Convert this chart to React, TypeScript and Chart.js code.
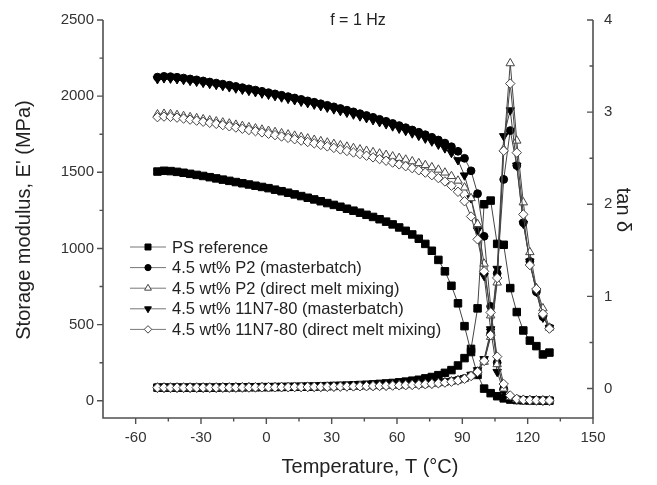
import React, { useEffect, useRef } from 'react';
import { Chart, registerables } from 'chart.js';

Chart.register(...registerables);

// Temperature grid (°C)
const temperatures = [
  -50, -47, -44, -41, -38, -35, -32, -29, -26, -23,
  -20, -17, -14, -11, -8, -5, -2, 1, 4, 7,
  10, 13, 16, 19, 22, 25, 28, 31, 34, 37,
  40, 43, 46, 49, 52, 55, 58, 61, 64, 67,
  70, 73, 76, 79, 82, 85, 88, 91, 94, 97,
  100, 103, 106, 109, 112, 115, 118, 121, 124, 127,
  130,
];

// Storage modulus E' (MPa)
const psModulus = [
  1505, 1510, 1508, 1503, 1497, 1490, 1483, 1476, 1468, 1460,
  1452, 1444, 1436, 1428, 1420, 1412, 1404, 1396, 1386, 1376,
  1366, 1355, 1344, 1333, 1322, 1310, 1298, 1286, 1274, 1261,
  1248, 1235, 1221, 1207, 1192, 1176, 1158, 1138, 1116, 1092,
  1064, 1030, 985, 925, 850, 755, 640, 490, 320, 170,
  80, 50, 30, 16, 8, 5, 3, 2, 2, 1,
  1,
];
const p2MasterModulus = [
  2125, 2130, 2128, 2124, 2119, 2113, 2107, 2100, 2093, 2086,
  2079, 2072, 2064, 2056, 2048, 2040, 2032, 2023, 2015, 2006,
  1997, 1988, 1979, 1969, 1960, 1950, 1940, 1930, 1919, 1908,
  1897, 1885, 1873, 1861, 1848, 1835, 1821, 1807, 1793, 1778,
  1763, 1747, 1730, 1712, 1692, 1668, 1638, 1592, 1510, 1360,
  1080, 620, 250, 80, 25, 10, 6, 4, 3, 2,
  2,
];
const p2DirectModulus = [
  1880, 1884, 1882, 1876, 1869, 1862, 1855, 1848, 1841, 1834,
  1827, 1820, 1812, 1804, 1796, 1788, 1780, 1772, 1764, 1756,
  1748, 1740, 1731, 1722, 1713, 1704, 1695, 1686, 1677, 1668,
  1659, 1650, 1641, 1632, 1623, 1614, 1604, 1594, 1583, 1572,
  1560, 1547, 1533, 1517, 1498, 1475, 1445, 1400, 1330, 1160,
  900, 560, 240, 80, 25, 10, 6, 4, 3, 2,
  2,
];
const n7MasterModulus = [
  2112, 2118, 2116, 2112, 2107, 2101, 2095, 2088, 2081, 2074,
  2067, 2059, 2051, 2043, 2035, 2027, 2018, 2010, 2001, 1992,
  1983, 1974, 1964, 1955, 1945, 1935, 1925, 1914, 1903, 1892,
  1880, 1868, 1856, 1843, 1830, 1816, 1802, 1787, 1772, 1756,
  1740, 1722, 1703, 1682, 1658, 1628, 1580, 1480, 1330, 1120,
  820, 470, 190, 60, 20, 9, 5, 4, 3, 2,
  2,
];
const n7DirectModulus = [
  1862, 1866, 1864, 1859, 1853, 1846, 1839, 1832, 1825, 1818,
  1810, 1802, 1794, 1786, 1778, 1770, 1762, 1753, 1744, 1735,
  1726, 1717, 1708, 1699, 1690, 1680, 1670, 1660, 1650, 1640,
  1630, 1620, 1609, 1598, 1587, 1576, 1564, 1552, 1540, 1527,
  1513, 1498, 1481, 1462, 1440, 1412, 1372, 1310, 1210, 1060,
  850, 580, 290, 110, 35, 12, 6, 4, 3, 2,
  2,
];

// tan delta
const psTan = [
  0.01, 0.01, 0.01, 0.01, 0.01, 0.01, 0.01, 0.01, 0.01, 0.01,
  0.012, 0.012, 0.013, 0.013, 0.014, 0.014, 0.015, 0.015, 0.016, 0.017,
  0.018, 0.019, 0.02, 0.021, 0.022, 0.024, 0.026, 0.028, 0.03, 0.032,
  0.035, 0.038, 0.041, 0.045, 0.05, 0.055, 0.06, 0.067, 0.075, 0.085,
  0.095, 0.11, 0.125, 0.145, 0.17, 0.2, 0.25, 0.33, 0.43, 0.87,
  2.0, 2.04, 1.57, 1.56, 1.09, 0.83, 0.63, 0.52, 0.46, 0.37,
  0.39,
];
const p2MasterTan = [
  0.012, 0.012, 0.012, 0.012, 0.012, 0.012, 0.012, 0.012, 0.012, 0.012,
  0.013, 0.013, 0.014, 0.014, 0.015, 0.015, 0.016, 0.016, 0.017, 0.017,
  0.018, 0.019, 0.019, 0.02, 0.021, 0.022, 0.023, 0.024, 0.025, 0.026,
  0.027, 0.028, 0.03, 0.031, 0.033, 0.035, 0.037, 0.039, 0.042, 0.045,
  0.048, 0.052, 0.057, 0.063, 0.07, 0.08, 0.093, 0.11, 0.14, 0.19,
  0.3, 0.6, 1.25, 2.27, 2.8, 2.42, 1.8, 1.38, 1.05, 0.78,
  0.66,
];
const p2DirectTan = [
  0.01, 0.01, 0.01, 0.01, 0.01, 0.01, 0.01, 0.01, 0.01, 0.01,
  0.011, 0.011, 0.012, 0.012, 0.013, 0.013, 0.014, 0.014, 0.015, 0.015,
  0.016, 0.016, 0.017, 0.018, 0.018, 0.019, 0.02, 0.021, 0.022, 0.023,
  0.024, 0.025, 0.026, 0.028, 0.029, 0.031, 0.033, 0.035, 0.037, 0.04,
  0.043, 0.047, 0.052, 0.058, 0.065, 0.075, 0.088, 0.105, 0.135, 0.18,
  0.29, 0.56, 1.15, 2.6, 3.53, 2.69, 2.02, 1.48, 1.09, 0.87,
  0.66,
];
const n7MasterTan = [
  0.011, 0.011, 0.011, 0.011, 0.011, 0.011, 0.011, 0.011, 0.011, 0.011,
  0.012, 0.012, 0.013, 0.013, 0.014, 0.014, 0.015, 0.015, 0.016, 0.016,
  0.017, 0.018, 0.018, 0.019, 0.02, 0.021, 0.022, 0.023, 0.024, 0.025,
  0.026, 0.027, 0.029, 0.03, 0.032, 0.034, 0.036, 0.038, 0.041, 0.044,
  0.047, 0.051, 0.056, 0.062, 0.07, 0.08, 0.095, 0.115, 0.15, 0.2,
  0.32, 0.62, 1.3, 2.74, 3.02, 2.42, 1.79, 1.38, 1.05, 0.77,
  0.66,
];
const n7DirectTan = [
  0.01, 0.01, 0.01, 0.01, 0.01, 0.01, 0.01, 0.01, 0.01, 0.01,
  0.011, 0.011, 0.012, 0.012, 0.012, 0.013, 0.013, 0.014, 0.014, 0.015,
  0.015, 0.016, 0.016, 0.017, 0.018, 0.018, 0.019, 0.02, 0.021, 0.022,
  0.023, 0.024, 0.025, 0.027, 0.028, 0.03, 0.032, 0.034, 0.036, 0.039,
  0.042, 0.046, 0.051, 0.057, 0.064, 0.074, 0.087, 0.105, 0.135, 0.18,
  0.3, 0.58, 1.2, 2.58, 3.31, 2.56, 1.89, 1.34, 1.08, 0.81,
  0.65,
];

const seriesLabels = [
  'PS reference',
  '4.5 wt% P2 (masterbatch)',
  '4.5 wt% P2 (direct melt mixing)',
  '4.5 wt% 11N7-80 (masterbatch)',
  '4.5 wt% 11N7-80 (direct melt mixing)',
];

const xTickValues = [-60, -30, 0, 30, 60, 90, 120, 150];
const xMinorValues = [-45, -15, 15, 45, 75, 105, 135];
const modulusTickValues = [0, 500, 1000, 1500, 2000, 2500];
const modulusMinorValues = [250, 750, 1250, 1750, 2250];
const tanTickValues = [0, 1, 2, 3, 4];
const tanMinorValues = [0.5, 1.5, 2.5, 3.5];

const FONT = "'Liberation Sans', Arial, Helvetica, sans-serif";

type MarkerStyle = {
  style: 'rect' | 'circle' | 'triangle' | 'rectRot';
  radius: number;
  fill: string;
  stroke: string;
  rotation: number;
  order: number;
};

const markerStyles: MarkerStyle[] = [
  { style: 'rect', radius: 5.3, fill: '#000', stroke: '#000', rotation: 0, order: 5 },
  { style: 'circle', radius: 3.9, fill: '#000', stroke: '#000', rotation: 0, order: 4 },
  { style: 'triangle', radius: 4.9, fill: '#fff', stroke: '#444', rotation: 0, order: 2 },
  { style: 'triangle', radius: 4.9, fill: '#000', stroke: '#000', rotation: 180, order: 3 },
  { style: 'rectRot', radius: 4.7, fill: '#fff', stroke: '#444', rotation: 0, order: 1 },
];

const modulusSeries = [psModulus, p2MasterModulus, p2DirectModulus, n7MasterModulus, n7DirectModulus];
const tanSeries = [psTan, p2MasterTan, p2DirectTan, n7MasterTan, n7DirectTan];

function drawMarker(ctx: CanvasRenderingContext2D, m: MarkerStyle, x: number, y: number, r: number) {
  ctx.beginPath();
  let rad = (m.rotation * Math.PI) / 180;
  if (m.style === 'circle') {
    ctx.arc(x, y, r, 0, Math.PI * 2);
  } else if (m.style === 'rect') {
    const s = Math.SQRT1_2 * r;
    ctx.rect(x - s, y - s, 2 * s, 2 * s);
  } else if (m.style === 'triangle') {
    ctx.moveTo(x + Math.sin(rad) * r, y - Math.cos(rad) * r);
    rad += (2 * Math.PI) / 3;
    ctx.lineTo(x + Math.sin(rad) * r, y - Math.cos(rad) * r);
    rad += (2 * Math.PI) / 3;
    ctx.lineTo(x + Math.sin(rad) * r, y - Math.cos(rad) * r);
    ctx.closePath();
  } else {
    ctx.moveTo(x - r, y);
    ctx.lineTo(x, y - r);
    ctx.lineTo(x + r, y);
    ctx.lineTo(x, y + r);
    ctx.closePath();
  }
  ctx.fillStyle = m.fill;
  ctx.fill();
  ctx.strokeStyle = m.stroke;
  ctx.lineWidth = 1;
  ctx.stroke();
}

const decorPlugin = {
  id: 'decor',
  afterDraw(chart: any) {
    const ctx: CanvasRenderingContext2D = chart.ctx;
    const area = chart.chartArea;
    const sx = chart.scales.x;
    const sE = chart.scales.yE;
    const sT = chart.scales.yT;
    ctx.save();
    ctx.strokeStyle = '#505050';
    ctx.lineWidth = 1.6;
    ctx.lineCap = 'butt';
    ctx.beginPath();
    ctx.moveTo(area.left, area.top);
    ctx.lineTo(area.left, area.bottom);
    ctx.lineTo(area.right, area.bottom);
    ctx.lineTo(area.right, area.top);
    ctx.stroke();
    ctx.lineWidth = 1.4;
    ctx.beginPath();
    const major = 6;
    const minor = 3.5;
    xTickValues.forEach((v) => {
      const px = sx.getPixelForValue(v);
      ctx.moveTo(px, area.bottom);
      ctx.lineTo(px, area.bottom + major);
    });
    xMinorValues.forEach((v) => {
      const px = sx.getPixelForValue(v);
      ctx.moveTo(px, area.bottom);
      ctx.lineTo(px, area.bottom + minor);
    });
    modulusTickValues.forEach((v) => {
      const py = sE.getPixelForValue(v);
      ctx.moveTo(area.left, py);
      ctx.lineTo(area.left - major, py);
    });
    modulusMinorValues.forEach((v) => {
      const py = sE.getPixelForValue(v);
      ctx.moveTo(area.left, py);
      ctx.lineTo(area.left - minor, py);
    });
    tanTickValues.forEach((v) => {
      const py = sT.getPixelForValue(v);
      ctx.moveTo(area.right, py);
      ctx.lineTo(area.right - major, py);
    });
    tanMinorValues.forEach((v) => {
      const py = sT.getPixelForValue(v);
      ctx.moveTo(area.right, py);
      ctx.lineTo(area.right - minor, py);
    });
    ctx.stroke();

    ctx.fillStyle = '#222';
    ctx.textAlign = 'center';
    ctx.textBaseline = 'middle';
    ctx.font = `16px ${FONT}`;
    ctx.fillText('f = 1 Hz', 358, 21);

    ctx.font = `20px ${FONT}`;
    ctx.fillText('Temperature, T (°C)', 370, 467);
    ctx.save();
    ctx.translate(24, 220);
    ctx.rotate(-Math.PI / 2);
    ctx.fillText("Storage modulus, E' (MPa)", 0, 0);
    ctx.restore();
    ctx.save();
    ctx.translate(623, 210);
    ctx.rotate(Math.PI / 2);
    ctx.fillText('tan δ', 0, 0);
    ctx.restore();

    ctx.font = `16.5px ${FONT}`;
    ctx.textAlign = 'left';
    seriesLabels.forEach((label, i) => {
      const y = 247 + 20.6 * i;
      ctx.strokeStyle = '#777';
      ctx.lineWidth = 1;
      ctx.beginPath();
      ctx.moveTo(130, y);
      ctx.lineTo(166, y);
      ctx.stroke();
      drawMarker(ctx, markerStyles[i], 148, y, markerStyles[i].radius * 0.8);
      ctx.fillStyle = '#222';
      ctx.fillText(label, 172, y + 1);
    });
    ctx.restore();
  },
};

export default function App() {
  const canvasRef = useRef<HTMLCanvasElement | null>(null);

  useEffect(() => {
    if (!canvasRef.current) return;
    const datasets: any[] = [];
    seriesLabels.forEach((label, i) => {
      const m = markerStyles[i];
      const common = {
        pointStyle: m.style,
        pointRadius: m.radius,
        pointRotation: m.rotation,
        pointBackgroundColor: m.fill,
        pointBorderColor: m.stroke,
        pointBorderWidth: 1,
        borderColor: '#444',
        borderWidth: 1,
        tension: 0,
        fill: false,
        order: m.order,
      };
      datasets.push({
        ...common,
        label: label + " E'",
        yAxisID: 'yE',
        data: temperatures.map((t, k) => ({ x: t, y: modulusSeries[i][k] })),
      });
      datasets.push({
        ...common,
        label: label + ' tan',
        yAxisID: 'yT',
        data: temperatures.map((t, k) => ({ x: t, y: tanSeries[i][k] })),
      });
    });

    const tickFont = { family: FONT, size: 15 };
    const chart = new Chart(canvasRef.current, {
      type: 'line',
      data: { datasets },
      options: {
        animation: false,
        responsive: false,
        maintainAspectRatio: false,
        layout: { padding: { top: 16, left: 0, right: 0, bottom: 0 } },
        plugins: {
          legend: { display: false },
          tooltip: { enabled: false },
          title: { display: false },
        },
        scales: {
          x: {
            type: 'linear',
            position: 'bottom',
            min: -75,
            max: 150,
            grid: { display: false, drawTicks: false },
            border: { display: false },
            afterBuildTicks: (s: any) => {
              s.ticks = xTickValues.map((v) => ({ value: v }));
            },
            afterFit: (s: any) => {
              s.height = 67;
            },
            ticks: {
              font: tickFont,
              color: '#333',
              padding: 11,
              maxRotation: 0,
              autoSkip: false,
              callback: (v: any) => String(v),
            },
          },
          yE: {
            type: 'linear',
            position: 'left',
            min: -113,
            max: 2500,
            grid: { display: false, drawTicks: false },
            border: { display: false },
            afterBuildTicks: (s: any) => {
              s.ticks = modulusTickValues.map((v) => ({ value: v }));
            },
            afterFit: (s: any) => {
              s.width = 103;
            },
            ticks: {
              font: tickFont,
              color: '#333',
              padding: 9,
              autoSkip: false,
              callback: (v: any) => String(v),
            },
          },
          yT: {
            type: 'linear',
            position: 'right',
            min: -0.32,
            max: 4,
            grid: { display: false, drawTicks: false },
            border: { display: false },
            afterBuildTicks: (s: any) => {
              s.ticks = tanTickValues.map((v) => ({ value: v }));
            },
            afterFit: (s: any) => {
              s.width = 64;
            },
            ticks: {
              font: tickFont,
              color: '#333',
              padding: 11,
              autoSkip: false,
              callback: (v: any) => String(v),
            },
          },
        },
      } as any,
      plugins: [decorPlugin],
    });
    return () => chart.destroy();
  }, []);

  return (
    <div style={{ position: 'absolute', left: 0, top: 0, width: 657, height: 485, background: '#fff' }}>
      <canvas ref={canvasRef} width={657} height={485} style={{ display: 'block' }} />
    </div>
  );
}
